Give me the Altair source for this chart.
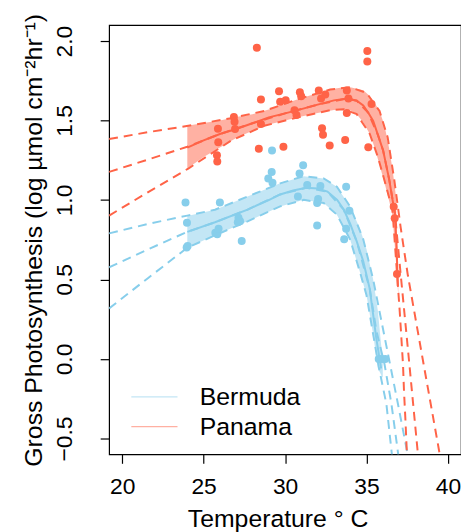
import altair as alt
import pandas as pd

# ---------------- data ----------------
sites = ["Bermuda", "Panama"]
site_colors = ["#87CEEB", "#FF6347"]
x_ticks = [20, 25, 30, 35, 40]
y_ticks = [-0.5, 0.0, 0.5, 1.0, 1.5, 2.0]

# observations
bermuda_temp = [23.89, 23.98, 23.96, 24.02, 25.72, 25.84, 25.92, 26.0, 27.1, 27.14, 27.24, 27.34,
                28.97, 29.18, 29.2, 29.23, 30.79, 30.89, 31.11, 31.36, 31.97, 31.97, 32.03, 32.17,
                33.63, 33.75, 33.75, 33.95, 35.75, 35.95, 36.15]
bermuda_gp = [0.984, 0.857, 0.701, 0.711, 0.794, 0.784, 0.819, 0.984, 0.860, 0.888, 0.866, 0.742,
              1.136, 1.177, 1.312, 1.109, 1.022, 1.167, 1.219, 1.094, 0.981, 0.840, 1.006, 1.088,
              0.753, 1.084, 0.819, 0.933, 0.0, 0.0, 0.0]
panama_temp = [25.82, 25.84, 25.9, 25.88, 26.86, 26.9, 26.93, 28.27, 28.39, 28.52, 28.52, 29.63,
               29.7, 30.04, 29.9, 30.58, 30.7, 30.91, 30.99, 32.07, 32.21, 32.47, 32.27, 32.33,
               32.74, 33.69, 33.79, 33.89, 33.79, 35.05, 35.05, 35.31, 35.11, 36.67, 36.73, 36.87]
panama_gp = [1.281, 1.243, 1.363, 1.448, 1.523, 1.492, 1.447, 1.958, 1.322, 1.633, 1.478, 1.684,
             1.618, 1.627, 1.335, 1.565, 1.535, 1.678, 1.653, 1.689, 1.639, 1.664, 1.452, 1.411,
             1.343, 1.377, 1.689, 1.638, 1.548, 1.937, 1.871, 1.604, 1.332, 0.958, 0.886, 0.535]

# fitted curves (solid, within data range)
bermuda_fit_t = [24.0, 25.7, 27.7, 29.0, 29.7, 30.5, 31.3, 32.0, 32.6, 33.2, 33.6, 34.0, 34.4, 34.8, 35.2, 35.6, 35.9]
bermuda_fit = [0.80, 0.86, 0.94, 1.0, 1.035, 1.06, 1.077, 1.072, 1.053, 1.0, 0.94, 0.85, 0.74, 0.615, 0.44, 0.13, -0.06]
panama_fit_t = [24.0, 25.0, 26.0, 27.0, 28.0, 29.0, 30.0, 31.0, 32.0, 33.0, 33.8, 34.4, 34.8, 35.1, 35.41,
                35.7, 36.02, 36.4, 36.6, 36.74, 36.85, 36.92]
panama_fit = [1.33, 1.375, 1.415, 1.447, 1.483, 1.52, 1.545, 1.572, 1.60, 1.627, 1.639, 1.625, 1.595, 1.55, 1.498,
              1.41, 1.312, 1.125, 1.0, 0.92, 0.70, 0.46]

# confidence bands
bermuda_band_t = [24.0, 25.7, 27.7, 29.7, 31.15, 32.37, 33.18, 33.99, 34.6, 35.0, 35.4, 35.7, 36.0]
bermuda_band_lo = [0.70, 0.778, 0.866, 0.96, 1.001, 0.981, 0.908, 0.753, 0.546, 0.401, 0.16, -0.06, -0.12]
bermuda_band_hi = [0.90, 0.939, 1.022, 1.105, 1.150, 1.136, 1.084, 0.960, 0.82, 0.69, 0.504, 0.30, -0.02]
panama_band_t = [24.0, 25.0, 26.0, 27.0, 28.0, 29.0, 30.0, 31.0, 32.0, 33.0, 33.6, 34.0, 34.4, 34.8, 35.2,
                 35.5, 35.8, 36.1, 36.4, 36.6, 36.8, 36.95]
panama_band_lo = [1.198, 1.27, 1.33, 1.39, 1.435, 1.475, 1.50, 1.525, 1.547, 1.567, 1.571, 1.565, 1.54, 1.49,
                  1.416, 1.33, 1.22, 1.11, 0.99, 0.90, 0.62, 0.40]
panama_band_hi = [1.467, 1.485, 1.50, 1.522, 1.540, 1.570, 1.605, 1.642, 1.672, 1.700, 1.709, 1.709, 1.70, 1.69,
                  1.655, 1.61, 1.56, 1.47, 1.32, 1.19, 1.03, 0.50]

# dashed extrapolations (upper, middle, lower)
bermuda_up_t = [19.2, 21.6, 24.0, 25.7, 27.7, 29.7, 31.15, 32.37, 33.18, 33.99, 34.8, 35.4, 36.38, 36.93, 37.6]
bermuda_up = [0.79, 0.85, 0.902, 0.939, 1.022, 1.105, 1.150, 1.136, 1.084, 0.960, 0.753, 0.504, 0.0, -0.283, -0.64]
bermuda_mid_t = [19.2, 21.6, 24.0, 25.7, 27.7, 29.7, 31.3, 32.6, 33.6, 34.4, 35.2, 35.6, 36.1, 36.53, 37.0]
bermuda_mid = [0.577, 0.69, 0.80, 0.86, 0.94, 1.035, 1.077, 1.053, 0.94, 0.74, 0.44, 0.18, -0.03, -0.283, -0.64]
bermuda_lo_t = [19.2, 21.6, 24.0, 25.7, 27.7, 29.7, 31.15, 32.37, 33.18, 33.99, 34.6, 35.0, 35.4, 35.75, 36.22, 36.6]
bermuda_lo = [0.318, 0.51, 0.70, 0.778, 0.866, 0.96, 1.001, 0.981, 0.908, 0.753, 0.546, 0.401, 0.16, -0.05, -0.283, -0.64]
panama_up_t = [19.2, 21.6, 24.06, 26.69, 28.72, 30.75, 32.77, 33.99, 35.0, 35.8, 36.3, 36.7, 37.1, 37.54, 38.5, 39.6]
panama_up = [1.384, 1.427, 1.467, 1.515, 1.56, 1.633, 1.695, 1.709, 1.674, 1.56, 1.394, 1.13, 0.825, 0.525, -0.03, -0.66]
panama_mid_t = [19.2, 21.6, 24.0, 26.0, 28.0, 30.0, 32.0, 33.8, 34.4, 35.1, 35.7, 36.02, 36.4, 36.74, 37.1, 37.6, 38.25]
panama_mid = [1.177, 1.255, 1.335, 1.415, 1.483, 1.545, 1.60, 1.639, 1.625, 1.55, 1.41, 1.312, 1.125, 0.92, 0.53, 0.0, -0.7]
panama_lo_t = [19.2, 21.6, 24.06, 26.69, 28.72, 30.75, 32.77, 33.6, 34.4, 35.2, 35.7, 36.1, 36.59, 36.94, 37.04,
               37.14, 37.24, 37.3, 37.38, 37.5]
panama_lo = [0.902, 1.05, 1.198, 1.374, 1.467, 1.519, 1.565, 1.571, 1.54, 1.416, 1.27, 1.125, 0.939, 0.443, 0.298,
             0.132, -0.034, -0.2, -0.365, -0.64]

# ---------------- tables ----------------
col_of = dict(zip(sites, site_colors))

pts = pd.concat([
    pd.DataFrame({"site": "Bermuda", "t": bermuda_temp, "y": bermuda_gp}),
    pd.DataFrame({"site": "Panama", "t": panama_temp, "y": panama_gp}),
])
fit = pd.concat([
    pd.DataFrame({"site": "Bermuda", "t": bermuda_fit_t, "y": bermuda_fit}),
    pd.DataFrame({"site": "Panama", "t": panama_fit_t, "y": panama_fit}),
])
band = pd.concat([
    pd.DataFrame({"site": "Bermuda", "t": bermuda_band_t, "lo": bermuda_band_lo, "hi": bermuda_band_hi}),
    pd.DataFrame({"site": "Panama", "t": panama_band_t, "lo": panama_band_lo, "hi": panama_band_hi}),
])
dash_parts = []
for site, name, t, y in [
    ("Bermuda", "b_up", bermuda_up_t, bermuda_up),
    ("Bermuda", "b_mid", bermuda_mid_t, bermuda_mid),
    ("Bermuda", "b_lo", bermuda_lo_t, bermuda_lo),
    ("Panama", "p_up", panama_up_t, panama_up),
    ("Panama", "p_mid", panama_mid_t, panama_mid),
    ("Panama", "p_lo", panama_lo_t, panama_lo),
]:
    dash_parts.append(pd.DataFrame({"site": site, "line": name, "t": t, "y": y, "i": range(len(t))}))
dash = pd.concat(dash_parts)
for df in (pts, fit, band, dash):
    df["col"] = df["site"].map(col_of)

FONT = "Liberation Sans"
xscale = alt.Scale(domain=[19.2, 40.8], nice=False, zero=False)
yscale = alt.Scale(domain=[-0.6, 2.1], nice=False, zero=False)
cscale = alt.Scale(domain=sites, range=site_colors)

xaxis = alt.Axis(values=x_ticks, format="d", title="Temperature \u00b0 C", labelFlush=False,
                 labelOverlap=False, tickSize=9, labelPadding=12, titlePadding=9, titleX=170,
                 titleFontSize=25)
yaxis = alt.Axis(values=y_ticks, format=".1f", title="Gross Photosynthesis (log \u00b5mol cm\u207b\u00b2hr\u207b\u00b9)",
                 labelAngle=-90, labelAlign="center", labelBaseline="alphabetic", labelOverlap=False,
                 tickSize=9, labelPadding=29, titlePadding=7, titleFontSize=25)

X = alt.X("t:Q", scale=xscale, axis=xaxis)
Y = alt.Y("y:Q", scale=yscale, axis=yaxis)
CV = alt.Color("col:N", scale=None)

band_layer = alt.Chart(band).mark_area(opacity=0.5, clip=True).encode(
    x=alt.X("t:Q", scale=xscale, axis=xaxis),
    y=alt.Y("lo:Q", scale=yscale, axis=yaxis),
    y2="hi:Q",
    color=CV,
    detail="site:N",
)
dash_layer = alt.Chart(dash).mark_line(strokeDash=[9, 6], strokeWidth=2, clip=True).encode(
    x=X, y=Y, color=CV, detail="line:N", order="i:Q",
)
fit_layer = alt.Chart(fit).mark_line(strokeWidth=2, clip=True).encode(
    x=X, y=Y,
    color=alt.Color("site:N", scale=cscale, legend=alt.Legend(
        title=None, orient="none", legendX=21.7, legendY=361, symbolType="stroke",
        symbolSize=2170, symbolStrokeWidth=1.3, labelFontSize=25, labelFont=FONT,
        labelColor="black", labelOffset=21.7, clipHeight=28, rowPadding=2, padding=0)),
)
pt_layer = alt.Chart(pts).mark_circle(size=65, opacity=1, clip=True).encode(
    x=X, y=Y, color=CV,
)

chart = alt.layer(band_layer, dash_layer, fit_layer, pt_layer).properties(
    width=355, height=433,
    autosize=alt.AutoSizeParams(type="none"),
    padding={"left": 102, "top": 15, "right": 0, "bottom": 76},
    background="white",
).configure_view(
    stroke="black", strokeWidth=1.2,
).configure_axis(
    labelFont=FONT, titleFont=FONT, labelFontSize=23, titleFontSize=24,
    labelColor="black", titleColor="black", titleFontWeight="normal",
    tickColor="black", tickWidth=1.2, domain=False, grid=False,
)

chart.save("out.html", embed_options={"renderer": "svg", "actions": False})
